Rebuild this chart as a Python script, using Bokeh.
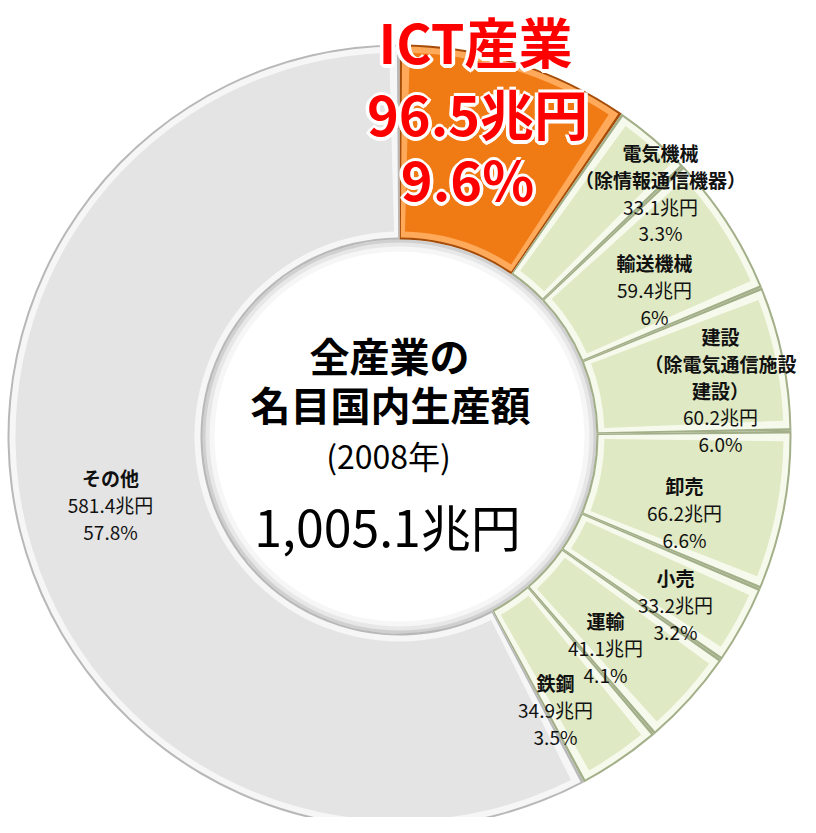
import numpy as np
from bokeh.plotting import figure
from bokeh.models import Range1d, ColumnDataSource
from bokeh.core.properties import value
from bokeh.embed import file_html
from bokeh.resources import INLINE

# ---- data (trillion yen, 2008) ----
categories = ["ICT産業", "電気機械", "輸送機械", "建設", "卸売", "小売", "運輸", "鉄鋼", "その他"]
notes = ["", "（除情報通信機器）", "", "（除電気通信施設|建設）", "", "", "", "", ""]
values = [96.5, 33.1, 59.4, 60.2, 66.2, 33.2, 41.1, 34.9, 581.4]
value_labels = ["96.5兆円", "33.1兆円", "59.4兆円", "60.2兆円", "66.2兆円",
                "33.2兆円", "41.1兆円", "34.9兆円", "581.4兆円"]
share_labels = ["9.6%", "3.3%", "6%", "6.0%", "6.6%", "3.2%", "4.1%", "3.5%", "57.8%"]
center_lines = ["全産業の", "名目国内生産額", "(2008年)"]
total_label = "1,005.1兆円"

# ---- layout / style ----
W, H = 800, 817
IMG_H = 833
def Y(img_y):
    return IMG_H - img_y

cx, cy = 407, Y(444)
R_OUT, R_IN = 392, 197

kind = ["ict"] + ["green"] * 7 + ["gray"]
palette = {
    "ict":   ["#A54C08", "#FFA95A", "#F07A14"],
    "green": ["#A2AF88", "#F6FAEC", "#DFE9C3"],
    "gray":  ["#B8B8B8", "#F6F6F6", "#E4E4E4"],
}

vals = np.array(values, dtype=float)
frac = vals / vals.sum()
cum_end = np.cumsum(frac)
cum_start = cum_end - frac
starts = np.pi / 2 - 2 * np.pi * cum_end
ends = np.pi / 2 - 2 * np.pi * cum_start

p = figure(width=W, height=H, x_range=Range1d(8, 808), y_range=Range1d(8, 825),
           output_backend="svg", toolbar_location=None, min_border=0)
p.axis.visible = False
p.grid.visible = False
p.outline_line_color = None
p.background_fill_color = "white"
p.border_fill_color = "white"

# beveled slices: dark edge, light highlight, main face
for layer, d in enumerate([0, 2.0, 8]):
    src = ColumnDataSource(dict(
        s=starts + d / 300.0, e=ends - d / 300.0,
        c=[palette[k][layer] for k in kind]))
    p.annular_wedge(x=cx, y=cy, inner_radius=R_IN + d, outer_radius=R_OUT - d,
                    start_angle="s", end_angle="e", direction="anticlock",
                    fill_color="c", line_color=None, source=src)

# soft shadow inside the hole
for r0, a in [(R_IN - 12, 0.05), (R_IN - 7, 0.09), (R_IN - 3, 0.16)]:
    p.annulus(x=cx, y=cy, inner_radius=r0, outer_radius=R_IN, fill_color="#555555",
              fill_alpha=a, line_color=None)

FONT = value("Noto Sans CJK JP")

# ---- slice labels ----
label_x = [None, 668, 662, 728, 692, 683, 613, 563, 118]
label_y0 = [None, 160, 270, 344, 493, 585, 628, 690, 485]
gap = 26.8
for i in range(1, len(categories)):
    head = [categories[i]] + (notes[i].split("|") if notes[i] else [])
    tail = [value_labels[i], share_labels[i]]
    ys = [Y(label_y0[i] + gap * j) for j in range(len(head) + len(tail))]
    p.text(x=[label_x[i]] * len(head), y=ys[:len(head)], text=head,
           text_font=FONT, text_font_size="19px", text_font_style="bold",
           text_align="center", text_baseline="middle", text_color="#111111")
    p.text(x=[label_x[i]] * len(tail), y=ys[len(head):], text=tail,
           text_font=FONT, text_font_size="19px", text_font_style="normal",
           text_align="center", text_baseline="middle", text_color="#111111")

# ---- ICT headline (red with white outline) ----
ict_text = [categories[0], value_labels[0], share_labels[0]]
ict_x = [483, 485, 475]
ict_y = [Y(48), Y(120), Y(185)]
# white halo: only sideways / downward offsets so nothing rises above the frame
for ang in np.linspace(0, np.pi, 9):
    p.text(x=ict_x, y=ict_y, text=ict_text, x_offset=3.5 * np.cos(ang), y_offset=3.5 * np.sin(ang),
           text_font=FONT, text_font_size="54px", text_font_style="bold",
           text_align="center", text_baseline="middle", text_color="white")
p.text(x=ict_x[1:], y=ict_y[1:], text=ict_text[1:], x_offset=0, y_offset=-3.5,
       text_font=FONT, text_font_size="54px", text_font_style="bold",
       text_align="center", text_baseline="middle", text_color="white")
p.text(x=ict_x, y=ict_y, text=ict_text,
       text_font=FONT, text_font_size="54px", text_font_style="bold",
       text_align="center", text_baseline="middle", text_color="#FF0000")

# ---- centre text ----
p.text(x=[397, 398], y=[Y(362), Y(411)], text=center_lines[:2],
       text_font=FONT, text_font_size="40px", text_font_style="bold",
       text_align="center", text_baseline="middle", text_color="#000000")
p.text(x=[396], y=[Y(462)], text=[center_lines[2]],
       text_font=FONT, text_font_size="32px", text_font_style="normal",
       text_align="center", text_baseline="middle", text_color="#000000")
p.text(x=[395], y=[Y(532)], text=[total_label],
       text_font=FONT, text_font_size="50px", text_font_style="normal",
       text_align="center", text_baseline="middle", text_color="#000000")

open("out.html", "w").write(file_html(p, INLINE))
